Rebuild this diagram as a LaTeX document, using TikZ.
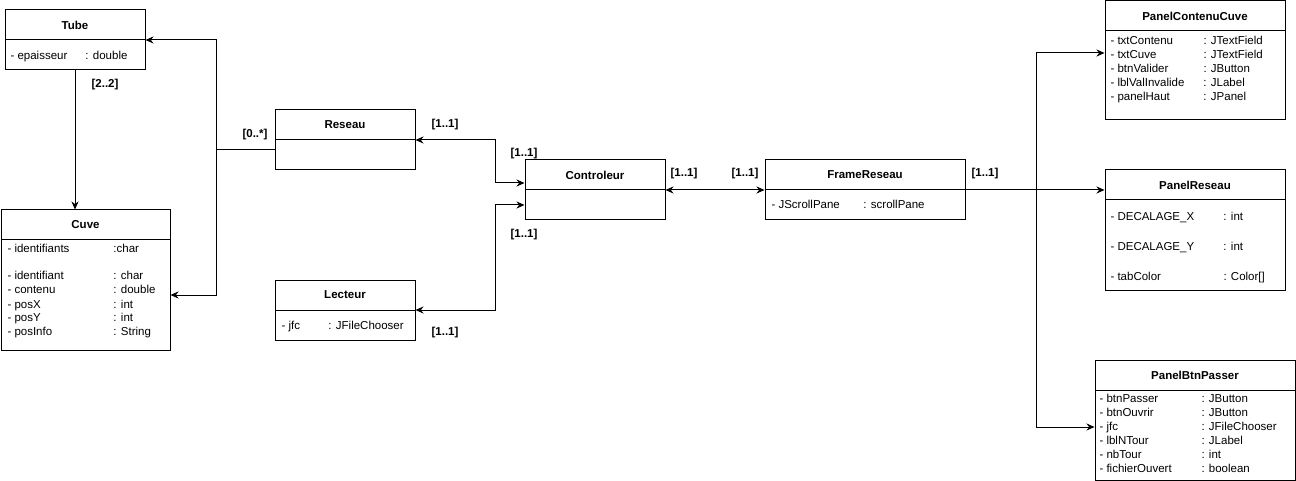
\documentclass[tikz,border=0pt]{standalone}
\usepackage{fontspec}
\setmainfont{Liberation Sans}
\usetikzlibrary{arrows.meta}

\begin{document}
\begin{tikzpicture}[x=1pt, y=-1pt, line width=1pt, >={Stealth[length=8pt, width=7pt]},
                    classbox/.style 2 args={draw, minimum width=#1, minimum height=#2, inner sep=0pt},
                    classhead/.style={draw, minimum width=#1, minimum height=30pt, anchor=north, inner sep=0pt, font=\fontsize{11.5}{14}\selectfont\bfseries},
                    attrs/.style={anchor=base west, inner sep=0pt, font=\fontsize{11.5}{14}\selectfont},
                    mult/.style={inner sep=0pt, font=\fontsize{11.5}{14}\selectfont\bfseries}]
                    \useasboundingbox (0,0) rectangle (1296,481);
                    
                    \node[classbox={140pt}{60pt}] (tube) at (75,40) {};
                    \node[classhead=140pt] (tubehead) at (tube.north) {Tube};
                    \node[attrs] (tubeattr) at (10,60) {\begin{tabular}[t]{@{}p{75pt}@{}l@{}}- epaisseur & : double\end{tabular}};
                    
                    \node[classbox={169pt}{140pt}] (cuve) at (85.5,280) {};
                    \node[classhead=169pt] (cuvehead) at (cuve.north) {Cuve};
                    \node[attrs] (cuveattr) at (7,252) {\begin{tabular}[t]{@{}p{106pt}@{}l@{}}
                        - identifiants & :char \\ \\
                        - identifiant & : char \\
                        - contenu & : double \\
                        - posX & : int \\
                        - posY & : int \\
                        - posInfo & : String
                    \end{tabular}};
                    
                    \node[classbox={140pt}{60pt}] (reseau) at (345,140) {};
                    \node[classhead=140pt] (reseauhead) at (reseau.north) {Reseau};
                    
                    \node[classbox={140pt}{60pt}] (lecteur) at (345,310) {};
                    \node[classhead=140pt] (lecteurhead) at (lecteur.north) {Lecteur};
                    \node[attrs] (lecteurattr) at (281,329) {\begin{tabular}[t]{@{}p{47pt}@{}l@{}}- jfc & : JFileChooser\end{tabular}};
                    
                    \node[classbox={140pt}{60pt}] (ctrl) at (595,190) {};
                    \node[classhead=140pt] (ctrlhead) at (ctrl.north) {Controleur};
                    
                    \node[classbox={200pt}{60pt}] (frame) at (865,190) {};
                    \node[classhead=200pt] (framehead) at (frame.north) {FrameReseau};
                    \node[attrs] (frameattr) at (771,209) {\begin{tabular}[t]{@{}p{92pt}@{}l@{}}- JScrollPane & : scrollPane\end{tabular}};
                    
                    \node[classbox={180pt}{119pt}] (pcc) at (1195,60.5) {};
                    \node[classhead=180pt] (pcchead) at (pcc.north) {PanelContenuCuve};
                    \node[attrs] (pccattr) at (1110,45) {\begin{tabular}[t]{@{}p{93pt}@{}l@{}}
                        - txtContenu & : JTextField \\
                        - txtCuve & : JTextField \\
                        - btnValider & : JButton \\
                        - lblValInvalide & : JLabel \\
                        - panelHaut & : JPanel
                    \end{tabular}};
                    
                    \node[classbox={180pt}{120pt}] (preseau) at (1195,230) {};
                    \node[classhead=180pt] (preseauhead) at (preseau.north) {PanelReseau};
                    \node[attrs] (preseauattr) at (1110,221) {\begin{tabular}[t]{@{}p{113pt}@{}l@{}}
                        - DECALAGE\_X & : int \\[16pt]
                        - DECALAGE\_Y & : int \\[16pt]
                        - tabColor & : Color[]
                    \end{tabular}};
                    
                    \node[classbox={200pt}{120pt}] (pbtn) at (1195,420) {};
                    \node[classhead=200pt] (pbtnhead) at (pbtn.north) {PanelBtnPasser};
                    \node[attrs] (pbtnattr) at (1099,402) {\begin{tabular}[t]{@{}p{102pt}@{}l@{}}
                        - btnPasser & : JButton \\
                        - btnOuvrir & : JButton \\
                        - jfc & : JFileChooser \\
                        - lblNTour & : JLabel \\
                        - nbTour & : int \\
                        - fichierOuvert & : boolean
                    \end{tabular}};
                    
                    \coordinate (tubejoin) at (216,150);
                    \draw ([yshift=-10pt]reseau.west) -- (tubejoin);
                    \draw[->] (tubejoin) |- (tube.east);
                    \draw[->] (tubejoin) |- ([yshift=-15pt]cuve.east);
                    \draw[->] (tube.south) -- (tube.south |- cuve.north);
                    
                    \draw[<->] (reseau.east) -- ++(80,0) |- ([yshift=7pt]ctrl.west);
                    \draw[<->] (lecteur.east) -- ++(80,0) |- ([yshift=-15pt]ctrl.west);
                    \draw[<->] (ctrl.east) -- (frame.west);
                    
                    \coordinate (panelsplit) at (1036,190);
                    \draw (frame.east) -- (panelsplit);
                    \draw[->] (panelsplit) -- (panelsplit -| preseau.west);
                    \draw[->] (panelsplit) |- ([yshift=7.5pt]pcc.west);
                    \draw[->] (panelsplit) |- ([yshift=-7pt]pbtn.west);
                    
                    \node[mult] (m1) at (105,85) {[2..2]};
                    \node[mult] (m2) at (255,135) {[0..*]};
                    \node[mult] (m3) at (445,125) {[1..1]};
                    \node[mult] (m4) at (524,154) {[1..1]};
                    \node[mult] (m5) at (524,235) {[1..1]};
                    \node[mult] (m6) at (445,333) {[1..1]};
                    \node[mult] (m7) at (684,174) {[1..1]};
                    \node[mult] (m8) at (745,174) {[1..1]};
                    \node[mult] (m9) at (985,174) {[1..1]};
                \end{tikzpicture}
\end{document}
